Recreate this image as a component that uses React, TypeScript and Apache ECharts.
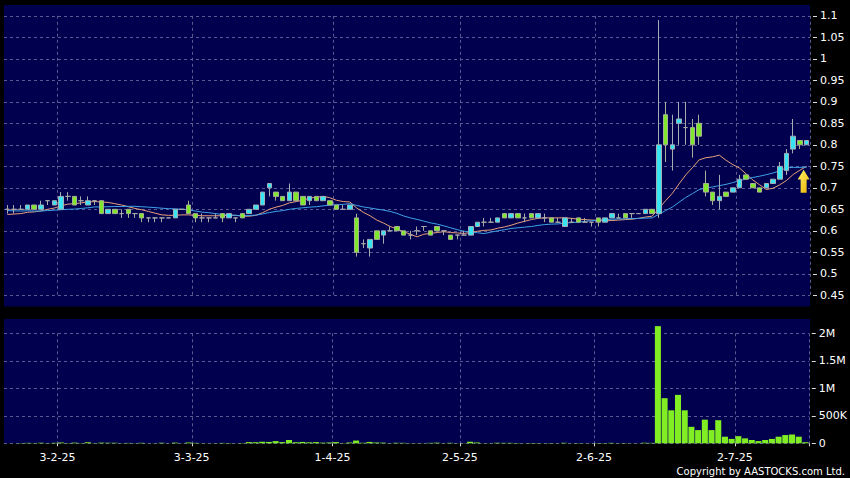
import React, { useEffect, useRef } from 'react';
import * as echarts from 'echarts';

const dates = [
  '17-1-25','20-1-25','21-1-25','22-1-25','23-1-25','24-1-25','27-1-25','28-1-25',
  '3-2-25','4-2-25','5-2-25','6-2-25','7-2-25','10-2-25','11-2-25','12-2-25','13-2-25','14-2-25','17-2-25','18-2-25','19-2-25','20-2-25','21-2-25','24-2-25','25-2-25','26-2-25','27-2-25','28-2-25',
  '3-3-25','4-3-25','5-3-25','6-3-25','7-3-25','10-3-25','11-3-25','12-3-25','13-3-25','14-3-25','17-3-25','18-3-25','19-3-25','20-3-25','21-3-25','24-3-25','25-3-25','26-3-25','27-3-25','28-3-25','31-3-25',
  '1-4-25','2-4-25','3-4-25','7-4-25','8-4-25','9-4-25','10-4-25','11-4-25','14-4-25','15-4-25','16-4-25','17-4-25','22-4-25','23-4-25','24-4-25','25-4-25','28-4-25','29-4-25','30-4-25',
  '2-5-25','6-5-25','7-5-25','8-5-25','9-5-25','12-5-25','13-5-25','14-5-25','15-5-25','16-5-25','19-5-25','20-5-25','21-5-25','22-5-25','23-5-25','26-5-25','27-5-25','28-5-25','29-5-25','30-5-25',
  '2-6-25','3-6-25','4-6-25','5-6-25','6-6-25','9-6-25','10-6-25','11-6-25','12-6-25','13-6-25','16-6-25','17-6-25','18-6-25','19-6-25','20-6-25','23-6-25','24-6-25','25-6-25','26-6-25','27-6-25','30-6-25',
  '2-7-25','3-7-25','4-7-25','7-7-25','8-7-25','9-7-25','10-7-25','11-7-25','14-7-25','15-7-25','16-7-25'
];

const tickLabels = ['3-2-25', '3-3-25', '1-4-25', '2-5-25', '2-6-25', '2-7-25'];

const opens = [
  0.65,0.65,0.65,0.65,0.66,0.65,0.67,0.66,0.65,0.68,
  0.68,0.67,0.66,0.67,0.67,0.64,0.65,0.64,0.65,0.64,
  0.64,0.63,0.63,0.63,0.63,0.63,0.65,0.66,0.64,0.63,
  0.63,0.63,0.64,0.63,0.63,0.64,0.64,0.65,0.66,0.70,
  0.69,0.68,0.67,0.69,0.68,0.67,0.68,0.67,0.67,0.66,
  0.65,0.65,0.63,0.57,0.56,0.60,0.59,0.60,0.61,0.60,
  0.59,0.60,0.61,0.60,0.61,0.60,0.59,0.59,0.59,0.59,
  0.61,0.62,0.62,0.62,0.64,0.63,0.64,0.63,0.64,0.63,
  0.63,0.63,0.62,0.61,0.62,0.63,0.62,0.62,0.63,0.62,
  0.63,0.63,0.64,0.64,0.64,0.64,0.65,0.64,0.87,0.79,
  0.85,0.84,0.84,0.85,0.71,0.69,0.67,0.69,0.69,0.70,
  0.73,0.71,0.70,0.70,0.71,0.72,0.74,0.79,0.81,0.80
];
const closes = [
  0.65,0.65,0.65,0.66,0.65,0.66,0.67,0.67,0.68,0.68,
  0.66,0.67,0.67,0.67,0.64,0.65,0.64,0.64,0.64,0.64,
  0.63,0.63,0.63,0.63,0.63,0.65,0.65,0.64,0.63,0.63,
  0.63,0.63,0.63,0.64,0.63,0.63,0.65,0.66,0.69,0.71,
  0.68,0.67,0.69,0.67,0.66,0.68,0.67,0.68,0.66,0.65,
  0.65,0.66,0.55,0.57,0.58,0.58,0.60,0.60,0.60,0.59,
  0.59,0.60,0.61,0.59,0.60,0.60,0.58,0.59,0.59,0.61,
  0.62,0.62,0.62,0.63,0.63,0.64,0.63,0.63,0.63,0.64,
  0.63,0.62,0.62,0.63,0.62,0.62,0.62,0.62,0.62,0.63,
  0.64,0.63,0.63,0.64,0.64,0.65,0.64,0.80,0.80,0.80,
  0.86,0.84,0.80,0.82,0.69,0.67,0.68,0.68,0.70,0.72,
  0.72,0.70,0.69,0.71,0.72,0.75,0.78,0.82,0.80,0.81
];
const lows = [
  0.64,0.64,0.65,0.65,0.65,0.65,0.66,0.66,0.65,0.67,
  0.66,0.66,0.66,0.66,0.64,0.64,0.64,0.63,0.63,0.63,
  0.62,0.62,0.62,0.62,0.63,0.63,0.65,0.64,0.62,0.62,
  0.62,0.63,0.62,0.63,0.62,0.63,0.64,0.65,0.66,0.68,
  0.67,0.67,0.67,0.67,0.66,0.66,0.67,0.67,0.66,0.65,
  0.65,0.65,0.54,0.56,0.54,0.58,0.57,0.60,0.60,0.59,
  0.58,0.59,0.60,0.59,0.60,0.59,0.58,0.58,0.59,0.59,
  0.61,0.61,0.62,0.62,0.63,0.63,0.63,0.62,0.63,0.63,
  0.62,0.62,0.62,0.61,0.62,0.62,0.62,0.61,0.61,0.62,
  0.63,0.63,0.63,0.63,0.64,0.64,0.64,0.63,0.76,0.74,
  0.80,0.80,0.77,0.80,0.68,0.66,0.65,0.68,0.69,0.70,
  0.72,0.70,0.69,0.70,0.71,0.72,0.73,0.78,0.79,0.80
];
const highs = [
  0.66,0.66,0.66,0.66,0.66,0.67,0.67,0.67,0.69,0.69,
  0.68,0.68,0.68,0.67,0.67,0.65,0.65,0.65,0.65,0.64,
  0.64,0.63,0.63,0.63,0.63,0.65,0.65,0.67,0.64,0.64,
  0.63,0.64,0.64,0.64,0.63,0.64,0.65,0.66,0.69,0.71,
  0.69,0.68,0.71,0.69,0.68,0.68,0.68,0.68,0.67,0.66,
  0.66,0.66,0.64,0.58,0.58,0.60,0.60,0.61,0.61,0.60,
  0.60,0.61,0.61,0.60,0.61,0.60,0.59,0.59,0.60,0.61,
  0.62,0.63,0.63,0.63,0.64,0.64,0.64,0.64,0.64,0.64,
  0.64,0.63,0.63,0.63,0.63,0.63,0.63,0.62,0.63,0.63,
  0.64,0.64,0.64,0.64,0.64,0.65,0.65,1.09,0.90,0.87,
  0.90,0.90,0.86,0.87,0.74,0.69,0.73,0.69,0.70,0.73,
  0.73,0.71,0.70,0.71,0.72,0.76,0.79,0.86,0.81,0.81
];
const volumes = [
  3000,2000,5000,8000,6000,10000,4000,9000,15000,6000,
  12000,5000,18000,4000,12000,8000,9000,3000,7000,3000,
  9000,2000,3000,10000,2000,12000,2000,15000,8000,3000,
  2000,3000,7000,6000,2000,6000,22000,20000,28000,25000,
  40000,22000,60000,20000,25000,18000,22000,12000,15000,22000,
  5000,15000,50000,10000,25000,15000,12000,4000,10000,8000,
  3000,3000,3000,8000,12000,3000,9000,3000,3000,28000,
  15000,3000,3000,10000,8000,8000,6000,2000,6000,6000,
  2000,6000,2000,9000,2000,5000,2000,2000,6000,5000,
  8000,3000,5000,2000,2000,10000,8000,2130000,820000,600000,
  880000,600000,300000,240000,430000,240000,420000,120000,80000,130000,
  90000,60000,40000,60000,80000,120000,150000,160000,120000,20000
];
// closes before the visible window (for the moving averages)
const priorCloses = [
  0.66,0.66,0.65,0.66,0.66,0.65,0.65,0.66,0.66,0.65,
  0.64,0.64,0.63,0.64,0.64,0.63,0.64,0.63,0.64
];

function sma(n: number): number[] {
  const all = priorCloses.concat(closes);
  return closes.map((_, i) => {
    const end = priorCloses.length + i;
    let s = 0;
    for (let k = end - n + 1; k <= end; k++) s += all[k];
    return +(s / n).toFixed(4);
  });
}

const FONT = 'DejaVu Sans';
const GRID_COLOR = '#5a5a92';
const NAVY = '#00004e';

export default function App() {
  const ref = useRef<HTMLDivElement>(null);
  useEffect(() => {
    document.body.style.margin = '0';
    document.body.style.background = '#000';
    const chart = echarts.init(ref.current!, null, { renderer: 'svg' });
    const labelIdx = new Set(tickLabels.map((l) => dates.indexOf(l)));
    const showAt = (i: number) => labelIdx.has(i);
    const splitLine = { show: true, interval: showAt, lineStyle: { color: GRID_COLOR, type: [3, 3], width: 1 } };
    const ySplit = { show: true, lineStyle: { color: GRID_COLOR, type: [3, 3], width: 1 } };
    const ma10 = sma(10);
    const ma20 = sma(20);

    chart.setOption({
      animation: false,
      backgroundColor: '#000000',
      graphic: [
        { type: 'rect', z: -10, shape: { x: 4, y: 5, width: 806, height: 301.5 }, style: { fill: NAVY } },
        { type: 'rect', z: -10, shape: { x: 4, y: 319, width: 806, height: 124.3 }, style: { fill: NAVY } },
        {
          type: 'text', x: 845, y: 471,
          style: { text: 'Copyright by AASTOCKS.com Ltd.', fill: '#ffffff', font: `10px "${FONT}"`, textAlign: 'right', textVerticalAlign: 'middle' }
        }
      ],
      grid: [
        { left: 4, right: 40, top: 15.8, bottom: 182.7 },
        { left: 4, right: 40, top: 333.3, bottom: 34.7 }
      ],
      xAxis: [
        {
          type: 'category', gridIndex: 0, data: dates, boundaryGap: true,
          axisLine: { show: false }, axisTick: { show: false }, axisLabel: { show: false },
          splitLine
        },
        {
          type: 'category', gridIndex: 1, data: dates, boundaryGap: true, offset: 3,
          axisLine: { show: false },
          axisTick: { show: true, interval: showAt, length: 3, lineStyle: { color: '#dddddd' } },
          axisLabel: {
            show: true, interval: showAt, color: '#ffffff', fontSize: 11, fontFamily: FONT, margin: 6,
            padding: [0, 7, 0, 0]
          },
          splitLine
        }
      ],
      yAxis: [
        {
          type: 'value', gridIndex: 0, position: 'right', min: 0.45, max: 1.1, interval: 0.05, offset: 3,
          axisLine: { show: false },
          axisTick: { show: true, length: 4, lineStyle: { color: '#dddddd' } },
          axisLabel: {
            color: '#ffffff', fontSize: 11, fontFamily: FONT, margin: 7,
            formatter: (v: number) => String(+v.toFixed(2))
          },
          splitLine: ySplit
        },
        {
          type: 'value', gridIndex: 1, position: 'right', min: 0, max: 2000000, interval: 500000, offset: 3,
          axisLine: { show: false },
          axisTick: { show: true, length: 4, lineStyle: { color: '#dddddd' } },
          axisLabel: {
            color: '#ffffff', fontSize: 11, fontFamily: FONT, margin: 7,
            formatter: (v: number) => (v === 0 ? '0' : v >= 1000000 ? `${+(v / 1000000).toFixed(1)}M` : `${Math.round(v / 1000)}K`)
          },
          splitLine: ySplit
        }
      ],
      series: [
        {
          type: 'line', name: 'MA10', xAxisIndex: 0, yAxisIndex: 0, data: ma10, symbol: 'none', z: 2,
          lineStyle: { width: 1, color: '#e8a07a' }
        },
        {
          type: 'line', name: 'MA20', xAxisIndex: 0, yAxisIndex: 0, data: ma20, symbol: 'none', z: 2,
          lineStyle: { width: 1, color: '#3fa2e6' }
        },
        {
          type: 'candlestick', xAxisIndex: 0, yAxisIndex: 0, z: 3, barWidth: 5,
          data: dates.map((_, i) => [opens[i], closes[i], lows[i], highs[i]]),
          itemStyle: {
            color: '#38e4f2', color0: '#80e82a',
            borderColor: '#a4acb4', borderColor0: '#a8ae96', borderColorDoji: '#a8a8a8', borderWidth: 1
          },
          markPoint: {
            silent: true,
            symbolKeepAspect: false,
            data: [
              {
                coord: [dates[dates.length - 1], 0.715],
                symbol: 'path://M6,0L12,10L9,10L9,24L3,24L3,10L0,10Z',
                symbolSize: [12, 23],
                symbolOffset: [-3, 0],
                itemStyle: {
                  color: new echarts.graphic.LinearGradient(0, 0, 1, 1, [
                    { offset: 0, color: '#fff36e' },
                    { offset: 1, color: '#ebb400' }
                  ])
                },
                label: { show: false }
              }
            ]
          }
        },
        {
          type: 'bar', xAxisIndex: 1, yAxisIndex: 1, data: volumes, barCategoryGap: '10%', clip: false,
          itemStyle: { color: '#80ee22' }
        }
      ]
    });
    return () => chart.dispose();
  }, []);
  return <div ref={ref} style={{ position: 'fixed', left: 0, top: 0, width: 850, height: 478 }} />;
}
